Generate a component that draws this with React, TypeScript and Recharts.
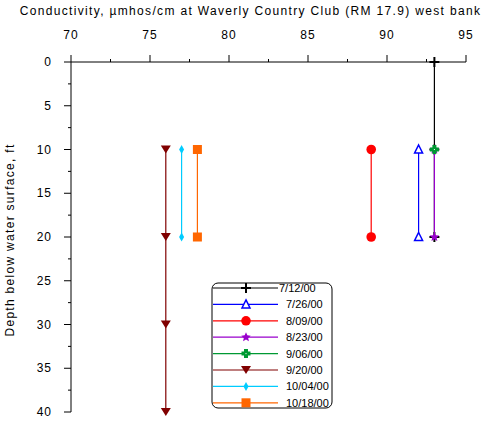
import { ScatterChart, Scatter, XAxis, YAxis } from 'recharts';

// conductivity (umhos/cm) vs depth (ft) for each sampling date
const d071200 = [
  { cond: 93, depth: 0 },
  { cond: 93, depth: 10 },
  { cond: 93, depth: 20 },
];
const d072600 = [
  { cond: 92, depth: 10 },
  { cond: 92, depth: 20 },
];
const d080900 = [
  { cond: 89, depth: 10 },
  { cond: 89, depth: 20 },
];
const d082300 = [
  { cond: 93, depth: 10 },
  { cond: 93, depth: 20 },
];
const d090600 = [{ cond: 93, depth: 10 }];
const d092000 = [
  { cond: 76, depth: 10 },
  { cond: 76, depth: 20 },
  { cond: 76, depth: 30 },
  { cond: 76, depth: 40 },
];
const d100400 = [
  { cond: 77, depth: 10 },
  { cond: 77, depth: 20 },
];
const d101800 = [
  { cond: 78, depth: 10 },
  { cond: 78, depth: 20 },
];

const xTicks = [70, 72.5, 75, 77.5, 80, 82.5, 85, 87.5, 90, 92.5, 95];
const yTicks = [0, 2.5, 5, 7.5, 10, 12.5, 15, 17.5, 20, 22.5, 25, 27.5, 30, 32.5, 35, 37.5, 40];

type MarkerKind = 'plus' | 'tri' | 'circle' | 'star' | 'cross' | 'down' | 'diamond' | 'square';

const series: { name: string; data: { cond: number; depth: number }[]; color: string; marker: MarkerKind }[] = [
  { name: '7/12/00', data: d071200, color: '#000000', marker: 'plus' },
  { name: '7/26/00', data: d072600, color: '#0000ff', marker: 'tri' },
  { name: '8/09/00', data: d080900, color: '#ff0000', marker: 'circle' },
  { name: '8/23/00', data: d082300, color: '#9900cc', marker: 'star' },
  { name: '9/06/00', data: d090600, color: '#009933', marker: 'cross' },
  { name: '9/20/00', data: d092000, color: '#800000', marker: 'down' },
  { name: '10/04/00', data: d100400, color: '#00ccff', marker: 'diamond' },
  { name: '10/18/00', data: d101800, color: '#ff6600', marker: 'square' },
];

const FONT = '"Liberation Sans", Arial, sans-serif';

function starPoints(cx: number, cy: number, ro: number, ri: number) {
  const pts: string[] = [];
  for (let i = 0; i < 10; i++) {
    const r = i % 2 === 0 ? ro : ri;
    const a = -Math.PI / 2 + (i * Math.PI) / 5;
    pts.push(`${cx + r * Math.cos(a)},${cy + r * Math.sin(a)}`);
  }
  return pts.join(' ');
}

function Marker({ kind, cx, cy, color }: { kind: MarkerKind; cx: number; cy: number; color: string }) {
  switch (kind) {
    case 'plus':
      return (
        <g stroke={color} strokeWidth={2}>
          <line x1={cx - 5} x2={cx + 5} y1={cy} y2={cy} />
          <line x1={cx} x2={cx} y1={cy - 5} y2={cy + 5} />
        </g>
      );
    case 'tri':
      return (
        <polygon
          points={`${cx},${cy - 4.5} ${cx + 4},${cy + 3.5} ${cx - 4},${cy + 3.5}`}
          fill="#fff"
          stroke={color}
          strokeWidth={1.5}
        />
      );
    case 'circle':
      return <circle cx={cx} cy={cy} r={4.8} fill={color} />;
    case 'star':
      return <polygon points={starPoints(cx, cy, 5, 2.3)} fill={color} />;
    case 'cross':
      return (
        <g>
          <path
            d={`M${cx - 2},${cy - 4.5}h4v2.5h2.5v4h-2.5v2.5h-4v-2.5h-2.5v-4h2.5z`}
            fill={color}
          />
          <rect x={cx - 0.5} y={cy - 0.5} width={1} height={1} fill="#fff" />
        </g>
      );
    case 'down':
      return (
        <polygon
          points={`${cx - 5},${cy - 4} ${cx + 5},${cy - 4} ${cx},${cy + 4}`}
          fill={color}
        />
      );
    case 'diamond':
      return (
        <polygon
          points={`${cx},${cy - 4.5} ${cx + 2.5},${cy} ${cx},${cy + 4.5} ${cx - 2.5},${cy}`}
          fill={color}
        />
      );
    case 'square':
      return <rect x={cx - 4.5} y={cy - 4.5} width={9} height={9} fill={color} />;
  }
}

function TopTick(props: any) {
  const { x, y, payload } = props;
  const major = payload.value % 5 === 0;
  return (
    <g>
      <line x1={x} x2={x} y1={y} y2={y - (major ? 7 : 3)} stroke="#000" />
      {major && (
        <text
          x={x}
          y={y - 23}
          textAnchor="middle"
          fontSize={12}
          fontFamily={FONT}
          letterSpacing={1}
          fill="#000"
        >
          {payload.value}
        </text>
      )}
    </g>
  );
}

function LeftTick(props: any) {
  const { x, y, payload } = props;
  const major = payload.value % 5 === 0;
  return (
    <g>
      <line x1={x} x2={x - (major ? 7 : 3)} y1={y} y2={y} stroke="#000" />
      {major && (
        <text
          x={x - 19}
          y={y + 4}
          textAnchor="end"
          fontSize={12}
          fontFamily={FONT}
          letterSpacing={1}
          fill="#000"
        >
          {payload.value}
        </text>
      )}
    </g>
  );
}

function LegendBox() {
  const rowH = 16.4;
  return (
    <svg
      width={122}
      height={128}
      style={{ position: 'absolute', left: 211, top: 282 }}
    >
      <rect x={1} y={1} width={120} height={125} rx={6} fill="#fff" stroke="#000" strokeWidth={1} />
      {series.map((s, i) => {
        const cy = 6 + i * rowH;
        return (
          <g key={s.name}>
            <line x1={2} x2={67} y1={cy} y2={cy} stroke={s.color} strokeWidth={1.2} />
            <Marker kind={s.marker} cx={35} cy={cy} color={s.color} />
            <text
              x={i === 0 ? 68 : 75}
              y={cy + 4}
              fontSize={11}
              fontFamily={FONT}
              fill="#000"
            >
              {s.name}
            </text>
          </g>
        );
      })}
    </svg>
  );
}

export default function App() {
  return (
    <div style={{ position: 'absolute', left: 0, top: 0, width: 483, height: 421, background: '#fff' }}>
      <div
        style={{
          position: 'absolute',
          left: 0,
          top: 4,
          width: 483,
          paddingLeft: 18,
          boxSizing: 'border-box',
          textAlign: 'center',
          fontFamily: FONT,
          fontSize: 12,
          letterSpacing: 1.33,
          whiteSpace: 'nowrap',
        }}
      >
        Conductivity, µmhos/cm at Waverly Country Club (RM 17.9) west bank
      </div>
      <div
        style={{
          position: 'absolute',
          left: 10,
          top: 240,
          transform: 'translate(-50%, -50%) rotate(-90deg)',
          fontFamily: FONT,
          fontSize: 12,
          letterSpacing: 1.3,
          whiteSpace: 'nowrap',
        }}
      >
        Depth below water surface, ft
      </div>
      <ScatterChart width={483} height={421} margin={{ top: 22, right: 17, bottom: 9, left: 0 }}>
        <XAxis
          type="number"
          dataKey="cond"
          orientation="top"
          domain={[70, 95]}
          ticks={xTicks}
          interval={0}
          height={40}
          tickSize={0}
          tickMargin={0}
          tickLine={false}
          axisLine={{ stroke: '#000' }}
          tick={<TopTick />}
        />
        <YAxis
          type="number"
          dataKey="depth"
          reversed
          domain={[0, 40]}
          ticks={yTicks}
          interval={0}
          width={71}
          tickSize={0}
          tickMargin={0}
          tickLine={false}
          axisLine={{ stroke: '#000' }}
          tick={<LeftTick />}
        />
        {series.map((s) => (
          <Scatter
            key={s.name}
            name={s.name}
            data={s.data}
            line={{ stroke: s.color, strokeWidth: 1.2 }}
            lineType="joint"
            isAnimationActive={false}
            shape={(p: any) => <Marker kind={s.marker} cx={p.cx} cy={p.cy} color={s.color} />}
          />
        ))}
      </ScatterChart>
      <LegendBox />
    </div>
  );
}
